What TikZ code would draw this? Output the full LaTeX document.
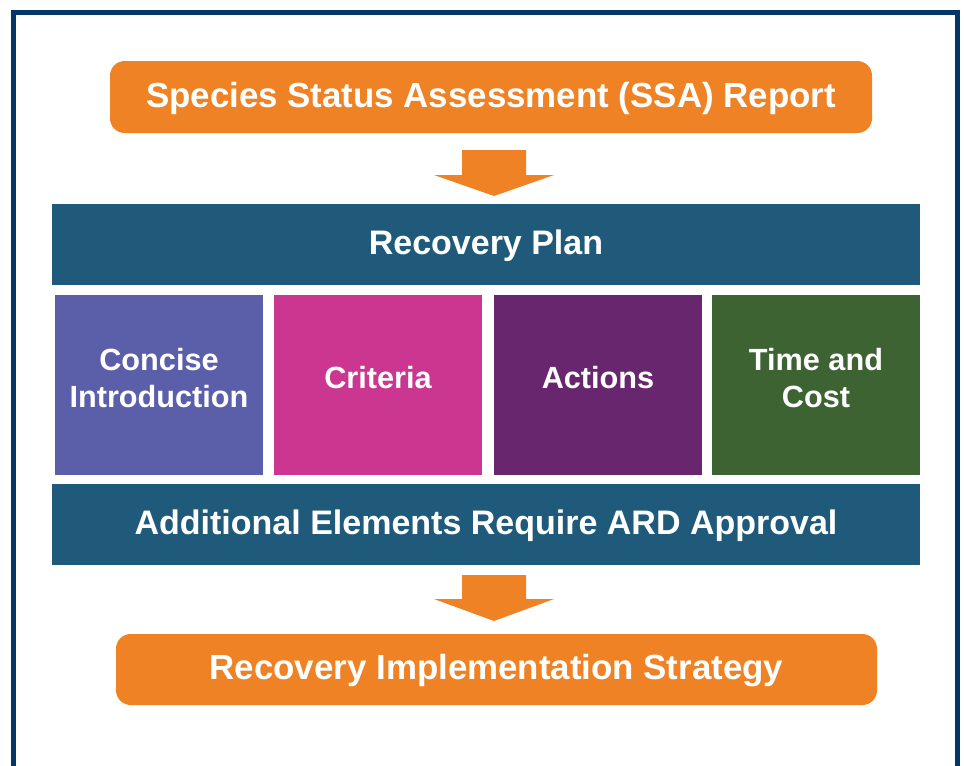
\documentclass[tikz,border=0pt]{standalone}
\usepackage{fontspec}
\setmainfont{Liberation Sans}
\usepackage{xcolor}
\definecolor{framecol}{RGB}{4,54,104}
\definecolor{orangecol}{RGB}{238,130,37}
\definecolor{barcol}{RGB}{31,90,122}
\definecolor{introcol}{RGB}{91,95,169}
\definecolor{critcol}{RGB}{203,54,144}
\definecolor{actcol}{RGB}{104,38,110}
\definecolor{costcol}{RGB}{61,99,50}

\tikzset{
  orangebox/.style={fill=orangecol, rounded corners=11pt, text=white,
    font=\bfseries\fontsize{26.15}{30}\selectfont, inner sep=0pt,
    text height=19pt, text depth=4pt},
  bar/.style={fill=barcol, text=white, minimum width=651pt, minimum height=60.75pt,
    font=\bfseries\fontsize{25.5}{30}\selectfont, inner sep=0pt,
    text height=19pt, text depth=4pt},
  element/.style={minimum width=156pt, minimum height=135pt, inner sep=0pt},
  elabel/.style={text=white, align=center, inner sep=0pt,
    font=\bfseries\fontsize{23}{27.75}\selectfont},
  blockarrow/.style={fill=orangecol}
}

\begin{document}
\begin{tikzpicture}[x=0.75pt, y=-0.75pt]
                \useasboundingbox (0,0) rectangle (964,765);
                \draw[framecol, line width=3.75pt] (13.5,775) |- (957.5,12.5) -- (957.5,775);

                \node[orangebox, minimum width=571.5pt, minimum height=54pt] (ssa) at (491,97) {Species Status Assessment (SSA) Report};
                \node[bar] (plan) at (486,244.5) {Recovery Plan};

                \node[element, fill=introcol] (intro) at (159,385) {};
                \node[element, fill=critcol] (crit) at (378,385) {};
                \node[element, fill=actcol] (act) at (598,385) {};
                \node[element, fill=costcol] (cost) at (816,385) {};
                \node[elabel] (introtext) at ([yshift=5.5pt]intro.center) {Concise\\Introduction};
                \node[elabel] (crittext) at ([yshift=5.5pt]crit.center) {Criteria};
                \node[elabel] (acttext) at ([yshift=5.5pt]act.center) {Actions};
                \node[elabel] (costtext) at ([yshift=5.5pt]cost.center) {Time and\\Cost};

                \node[bar] (extra) at (486,524.5) {Additional Elements Require ARD Approval};
                \node[orangebox, minimum width=570.75pt, minimum height=53.25pt] (ris) at (496.5,669.5) {Recovery Implementation Strategy};

                \coordinate (a1tip) at (494,196);
                \coordinate (a2tip) at (494,621);
                \fill[blockarrow] (a1tip) -- ++(60,-21) -- ++(-28,0) -- ++(0,-25) -- ++(-64,0) -- ++(0,25) -- ++(-28,0) -- cycle;
                \fill[blockarrow] (a2tip) -- ++(60,-22) -- ++(-28,0) -- ++(0,-24) -- ++(-64,0) -- ++(0,24) -- ++(-28,0) -- cycle;
            \end{tikzpicture}
\end{document}
